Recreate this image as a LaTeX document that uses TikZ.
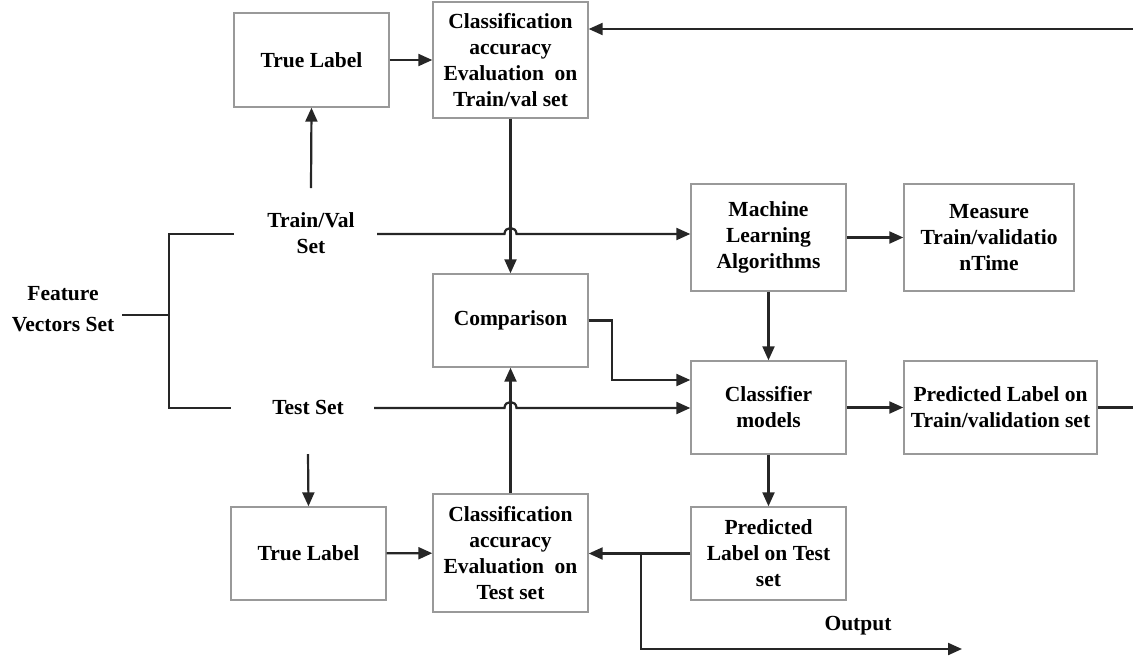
\documentclass[tikz,border=0pt]{standalone}
\usepackage{fontspec}
\setmainfont{Liberation Serif}
\usetikzlibrary{arrows.meta}
\begin{document}
\begin{tikzpicture}[x=1pt,y=-1pt,
  txt/.style={font=\fontsize{21.5}{26}\selectfont\bfseries, align=center, inner sep=0pt},
  box/.style={txt, draw=black!40, line width=1.4pt, minimum width=155pt},
  conn/.style={line width=2.2pt, draw=black!85},
  arr/.style={conn, -{Triangle[length=14pt,width=12pt]}}]
\useasboundingbox (0,0) rectangle (1133,662);
% boxes
\node[box, minimum height=94pt] (tl1) at (311.5,60) {True Label};
\node[box, minimum height=116pt] (ca1) at (510.5,60) {Classification\\accuracy\\Evaluation~~on\\Train/val set};
\node[box, minimum height=93pt] (cmp) at (510.5,320.5) {Comparison};
\node[box, minimum height=107pt] (ml) at (768.5,237.5) {Machine\\Learning\\Algorithms};
\node[box, minimum height=107pt, minimum width=170pt] (meas) at (989,237.5) {Measure\\Train/validatio\\nTime};
\node[box, minimum height=93pt] (clf) at (768.5,407.5) {Classifier\\models};
\node[box, minimum height=93pt, minimum width=193pt] (plt) at (1000.5,407.5) {Predicted Label on\\Train/validation set};
\node[box, minimum height=93pt] (tl2) at (308.5,553.5) {True Label};
\node[box, minimum height=118pt] (ca2) at (510.5,553) {Classification\\accuracy\\Evaluation~~on\\Test set};
\node[box, minimum height=93pt] (plte) at (768.5,553.5) {Predicted\\Label on Test\\set};
% plain texts
\node[txt] (tv) at (311,233.5) {Train/Val\\Set};
\node[txt] (ts) at (308,407) {Test Set};
\node[txt, font=\fontsize{21.5}{31}\selectfont\bfseries] (fv) at (63,309.5) {Feature\\Vectors Set};
\node[txt] (out) at (858,626) {Output};
% coordinates
\coordinate (fvR) at (122,315);
\coordinate (fvJ) at (169,315);
\coordinate (tvL) at (234,234);
\coordinate (tvR) at (377,234);
\coordinate (tvU) at (311,188);
\coordinate (tsL) at (231,408);
\coordinate (tsR) at (374,408);
\coordinate (tsD) at (308,454);
\coordinate (cc) at (612,380);
\coordinate (rtop) at (1133,29);
\coordinate (rmid) at (1133,407.5);
\coordinate (jn) at (641,553.5);
\coordinate (oend) at (962,649);
% connectors
\draw[conn] (fvR) -- (fvJ);
\draw[conn] (tvL) -| (169,408) -- (tsL);
\draw[arr] (tvU) -- (tl1.south);
\draw[arr] (tl1) -- (ca1);
\draw[arr] (rtop) -- (ca1.east |- rtop);
\draw[arr] (ca1.south) -- (cmp.north);
\draw[arr] (tvR) -- (504.5,234) .. controls (504.5,226) and (516.5,226) .. (516.5,234) -- (ml.west |- tvR);
\draw[arr] (ml) -- (meas);
\draw[arr] (ml) -- (clf);
\draw[arr] (cmp.east) -| (cc) -- (clf.west |- cc);
\draw[arr] (tsR) -- (504.5,408) .. controls (504.5,400) and (516.5,400) .. (516.5,408) -- (clf.west |- tsR);
\draw[arr] (clf) -- (plt);
\draw[conn] (plt.east) -- (rmid);
\draw[arr] (tsD) -- (tl2.north);
\draw[arr] (tl2) -- (ca2);
\draw[arr] (ca2.north) -- (cmp.south);
\draw[arr] (clf) -- (plte);
\draw[arr] (plte.west) -- (ca2.east |- plte.west);
\draw[arr] (jn) |- (oend);
\end{tikzpicture}
\end{document}
